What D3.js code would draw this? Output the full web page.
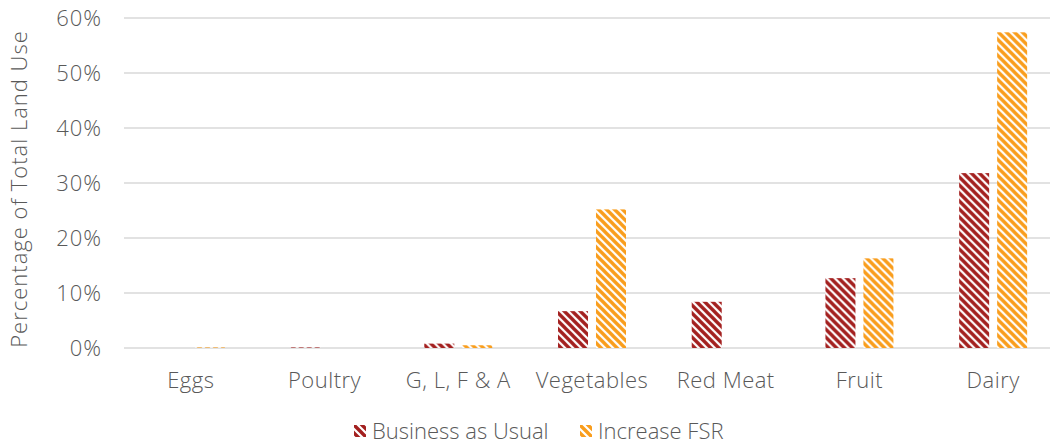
<!DOCTYPE html>
<html>
<head>
<meta charset="utf-8">
<script src="https://cdn.jsdelivr.net/npm/d3@7"></script>
<style>
  body { margin: 0; background: #fff; overflow: hidden; }
  text { font-family: "Open Sans", sans-serif; font-weight: 300; fill: #595959; }
</style>
</head>
<body>
<div id="chart"></div>
<script>
// data
const categories = ["Eggs", "Poultry", "G, L, F & A", "Vegetables", "Red Meat", "Fruit", "Dairy"];
const seriesNames = ["Business as Usual", "Increase FSR"];
const businessAsUsual = [0.0, 0.1, 0.8, 6.7, 8.4, 12.7, 31.8];
const increaseFSR = [0.1, 0.0, 0.5, 25.2, 0.0, 16.3, 57.4];
const yTicks = [0, 10, 20, 30, 40, 50, 60];

const width = 1050;
const height = 444;
// plot area runs slightly past the right edge (chart is cropped there)
const margin = { top: 18, right: -10, bottom: 96, left: 124 };
const colors = ["#A3201F", "#F99D1C"];

const svg = d3.select("#chart")
  .append("svg")
  .attr("width", width)
  .attr("height", height);

// diagonal hatch patterns (wide downward diagonal)
const defs = svg.append("defs");
colors.forEach((c, i) => {
  const p = defs.append("pattern")
    .attr("id", "hatch" + i)
    .attr("patternUnits", "userSpaceOnUse")
    .attr("width", 8)
    .attr("height", 8);
  p.append("rect").attr("width", 8).attr("height", 8).attr("fill", "#fff");
  p.append("path")
    .attr("d", "M-2,-2 L10,10 M-2,6 L2,10 M6,-2 L10,2")
    .attr("stroke", c)
    .attr("stroke-width", 3.4);
});

const x = d3.scaleBand()
  .domain(categories)
  .range([margin.left, width - margin.right]);

const x1 = d3.scaleBand()
  .domain(seriesNames)
  .range([x.bandwidth() / 2 - 34, x.bandwidth() / 2 + 34])
  .paddingInner(0.21);

const y = d3.scaleLinear()
  .domain([0, 60])
  .range([height - margin.bottom, margin.top]);

// gridlines
svg.append("g")
  .selectAll("line")
  .data(yTicks)
  .join("line")
  .attr("x1", margin.left)
  .attr("x2", width)
  .attr("y1", d => y(d))
  .attr("y2", d => y(d))
  .attr("stroke", "#D9D9D9")
  .attr("stroke-width", 1.5);

// y tick labels
svg.append("g")
  .selectAll("text")
  .data(yTicks)
  .join("text")
  .attr("x", 102)
  .attr("y", d => y(d))
  .attr("dy", "0.35em")
  .attr("text-anchor", "end")
  .style("font-size", "22px")
  .style("letter-spacing", "1px")
  .text(d => d + "%");

// y axis title
svg.append("text")
  .attr("transform", `translate(27,${(y(0) + y(60)) / 2 + 6}) rotate(-90)`)
  .attr("text-anchor", "middle")
  .style("font-size", "22px")
  .style("letter-spacing", "1px")
  .text("Percentage of Total Land Use");

// bars
const rows = categories.map((c, i) => ({ cat: c, vals: [businessAsUsual[i], increaseFSR[i]] }));
const groups = svg.append("g")
  .selectAll("g")
  .data(rows)
  .join("g")
  .attr("transform", d => `translate(${x(d.cat)},0)`);

groups.selectAll("rect")
  .data(d => d.vals.map((v, i) => ({ name: seriesNames[i], v, i })))
  .join("rect")
  .attr("x", d => x1(d.name))
  .attr("width", x1.bandwidth())
  .attr("y", d => y(d.v))
  .attr("height", d => y(0) - y(d.v))
  .attr("fill", d => `url(#hatch${d.i})`);

// category labels
svg.append("g")
  .selectAll("text")
  .data(categories)
  .join("text")
  .attr("x", d => x(d) + x.bandwidth() / 2)
  .attr("y", 388)
  .attr("text-anchor", "middle")
  .style("font-size", "22px")
  .style("letter-spacing", "0.5px")
  .text(d => d);

// legend
const legendPos = [354, 580];
const legend = svg.append("g")
  .selectAll("g")
  .data(seriesNames)
  .join("g")
  .attr("transform", (d, i) => `translate(${legendPos[i]},425)`);

legend.append("rect")
  .attr("width", 12)
  .attr("height", 12)
  .attr("fill", (d, i) => `url(#hatch${i})`);

legend.append("text")
  .attr("x", 18)
  .attr("y", 6)
  .attr("dy", "0.35em")
  .style("font-size", "22px")
  .text(d => d);
</script>
</body>
</html>
